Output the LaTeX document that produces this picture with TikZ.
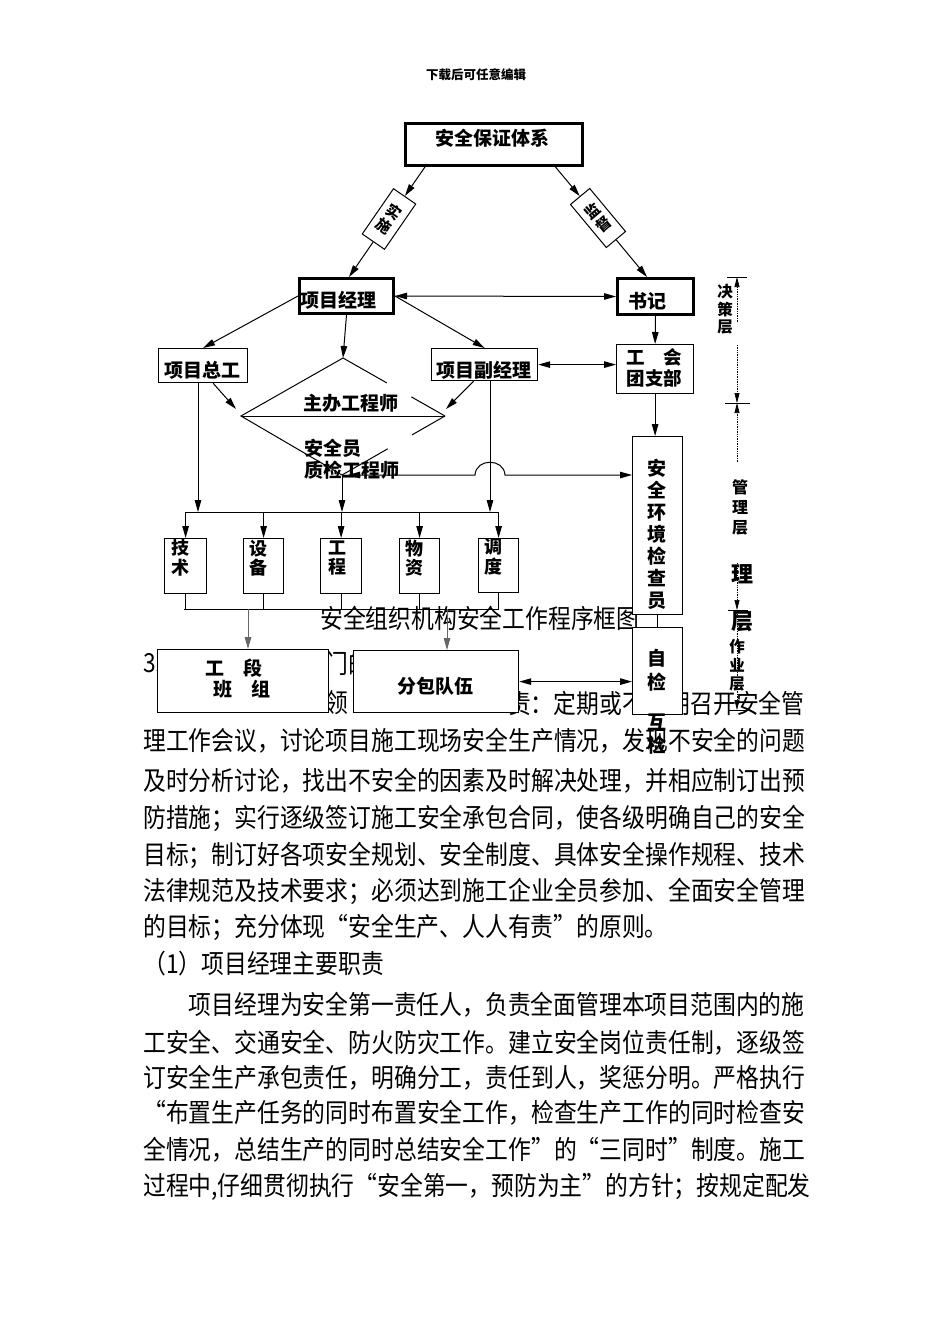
\documentclass[tikz,border=0pt]{standalone}
\usepackage{fontspec}
\usepackage{graphicx}
\newfontfamily\cjk{Noto Sans CJK SC}
\usetikzlibrary{arrows.meta,calc}
\newcommand\jline[2]{\makebox[#1][s]{\jlA#2\relax}}
\def\jlA#1{#1\jlB}
\def\jlB#1{\ifx\relax#1\else\hfil#1\expandafter\jlB\fi}
\newcommand\bt[1]{\scalebox{1}[1.15]{#1}}
\begin{document}
\begin{tikzpicture}[x=1pt,y=-1pt,
  box/.style={draw, fill=white, line width=1.2pt, inner sep=0, anchor=north west},
  tbox/.style={box, line width=3pt},
  rbox/.style={draw, fill=white, line width=1pt, inner sep=0, align=center,
     font=\cjk\bfseries\fontsize{15}{17}\selectfont},
  lab/.style={inner sep=0, align=center, font=\cjk\bfseries\fontsize{19}{22}\selectfont},
  vlab/.style={inner sep=0, align=center, font=\cjk\bfseries\fontsize{18}{19.5}\selectfont},
  body/.style={anchor=west, inner sep=0, font=\cjk\fontsize{22.8}{26}\selectfont},
  ln/.style={line width=1pt},
  arr/.style={line width=1pt, -{Triangle[length=12pt,width=6.5pt]}},
  darr/.style={line width=1pt, {Triangle[length=12pt,width=6.5pt]}-{Triangle[length=12pt,width=6.5pt]}},
  dim/.style={line width=0.7pt, densely dotted, -{Triangle[length=10pt,width=5pt]}},
  tick/.style={line width=1pt}]
\fill[white] (0,0) rectangle (950,1344);
\useasboundingbox (0,0) rectangle (950,1344);

% header
\node[inner sep=0, font=\cjk\bfseries\fontsize{12.5}{14}\selectfont] (hdr) at (476,75) {下载后可任意编辑};

% ---------- body text ----------
\node[body] (b0a) at (143,663) {\bt{3.}};
\node[body] (b0b) at (325.4,663) {\bt{门的}};
\node[body] (b1a) at (325.4,703) {\bt{领}};
\node[body] (b1b) at (507.8,703) {\bt{\jline{296.4pt}{责：定期或不定期召开安全管}}};
\node[body] (b2) at (143,741) {\bt{\jline{662pt}{理工作会议，讨论项目施工现场安全生产情况，发现不安全的问题}}};
\node[body] (b3) at (143,781) {\bt{\jline{662pt}{及时分析讨论，找出不安全的因素及时解决处理，并相应制订出预}}};
\node[body] (b4) at (143,818) {\bt{\jline{662pt}{防措施；实行逐级签订施工安全承包合同，使各级明确自己的安全}}};
\node[body] (b5) at (143,855) {\bt{\jline{662pt}{目标；制订好各项安全规划、安全制度、具体安全操作规程、技术}}};
\node[body] (b6) at (143,891) {\bt{\jline{662pt}{法律规范及技术要求；必须达到施工企业全员参加、全面安全管理}}};
\node[body] (b7) at (143,927) {\bt{的目标；充分体现“安全生产、人人有责”的原则。}};
\node[body] (b8) at (143,964) {\bt{（1）项目经理主要职责}};
\node[body] (b9) at (188.6,1005) {\bt{\jline{615.6pt}{项目经理为安全第一责任人，负责全面管理本项目范围内的施}}};
\node[body] (b10) at (143,1043) {\bt{\jline{662pt}{工安全、交通安全、防火防灾工作。建立安全岗位责任制，逐级签}}};
\node[body] (b11) at (143,1078) {\bt{\jline{662pt}{订安全生产承包责任，明确分工，责任到人，奖惩分明。严格执行}}};
\node[body] (b12) at (143,1113) {\bt{\jline{662pt}{“布置生产任务的同时布置安全工作，检查生产工作的同时检查安}}};
\node[body] (b13) at (143,1150) {\bt{\jline{662pt}{全情况，总结生产的同时总结安全工作”的“三同时”制度。施工}}};
\node[body] (b14) at (143,1187) {\bt{\jline{662pt}{过程中,仔细贯彻执行“安全第一，预防为主”的方针；按规定配发}}};
\node[body] (cap) at (320,618) {\bt{\jline{310pt}{安全组织机构安全工作程序框图}}};

% ---------- boxes ----------
\node[tbox, minimum width=177, minimum height=42] (sys) at (404,122) {};
\node[tbox, minimum width=94, minimum height=35] (pm) at (298,277) {};
\node[tbox, minimum width=76, minimum height=36] (sj) at (616,277) {};
\node[box, minimum width=89, minimum height=34] (zg) at (158,348) {};
\node[box, minimum width=106, minimum height=32] (fj) at (431,348) {};
\node[box, minimum width=77, minimum height=49] (gh) at (616,344) {};
\node[box, minimum width=50, minimum height=178] (aq) at (632,436) {};
\node[box, minimum width=50, minimum height=87] (zj) at (632,627) {};
\node[box, minimum width=42, minimum height=55] (js) at (164,538) {};
\node[box, minimum width=40, minimum height=55] (sb) at (243,538) {};
\node[box, minimum width=41, minimum height=55] (gc) at (320,538) {};
\node[box, minimum width=40, minimum height=55] (wz) at (399,538) {};
\node[box, minimum width=40, minimum height=54] (dd) at (478,538) {};
\node[box, minimum width=171, minimum height=63] (gd) at (157,649) {};
\node[box, minimum width=165, minimum height=62] (fb) at (353,650) {};

\node[rbox, rotate=-34.6, minimum width=27, minimum height=55] (ss) at (389,219) {实\\施};
\node[rbox, rotate=39.8, minimum width=25, minimum height=56] (jd) at (598,218) {监\\督};

% ---------- diamond ----------
\coordinate (T) at (343,358);
\coordinate (L) at (241,416);
\coordinate (R) at (445,416);
\coordinate (B) at (342,475);
\draw[ln] (T) -- (L) -- (B);
\draw[ln] (T) -- ($(T)!0.43!(R)$) ($(T)!0.67!(R)$) -- (R);
\draw[ln] (R) -- ($(R)!0.32!(B)$) ($(R)!0.555!(B)$) -- (B);
\draw[ln] (L) -- (R);

% ---------- connectors ----------
\coordinate (sA) at (427,164);
\coordinate (sB) at (553,164);
\coordinate (pmT) at (349,277);
\coordinate (sjT) at (647,277);
\draw[arr] (sA) -- (ss.north);
\draw[arr] (ss.south) -- (pmT);
\draw[arr] (sB) -- (jd.north);
\draw[arr] (jd.south) -- (sjT);

\draw[darr] (pm.east) -- (sj.west);
\draw[arr] (pm.west) -- (zg.north);
\draw[arr] (pm.south) -- (T);
\draw[arr] (pm.east) -- (fj.north);
\draw[darr] (fj.east) -- (fj.east -| gh.west);
\draw[arr] (sj.south) -- (gh.north);
\draw[arr] (gh.south) -- (gh.south |- aq.north);
\draw[ln] (aq.south) -- (zj.north);
\draw[darr] (fb.east) -- (fb.east -| zj.west);

\coordinate (Lt) at (236,409);
\coordinate (Rt) at (446,409);
\draw[arr] ([xshift=10pt]zg.south) -- (Lt);
\draw[arr] ([xshift=-11pt]fj.south) -- (Rt);

\coordinate (bus1) at (186,512);
\coordinate (bus2) at (499,512);
\coordinate (zgd) at (198,382);
\coordinate (fjd) at (490,380);
\draw[ln] (bus1) -- (bus2);
\draw[arr] (zgd) -- (zgd |- bus1);
\draw[arr] (B) -- (B |- bus1);
\draw[arr] (fjd) -- (fjd |- bus1);
\foreach \n in {js,sb,gc,wz,dd} \draw[arr] (\n.north |- bus1) -- (\n.north);

\coordinate (bus3) at (184,609);
\coordinate (bus4) at (499,609);
\draw[ln] (bus3) -- (bus4);
\foreach \n in {js,sb,gc,wz,dd} \draw[ln] (\n.south) -- (\n.south |- bus3);
\coordinate (d1) at (248,609);
\coordinate (d2) at (447,609);
\draw[arr, black!60] (d1) -- (d1 |- gd.north);
\draw[arr, black!60] (d2) -- (d2 |- fb.north);

\coordinate (qL) at (348,475);
\coordinate (h1) at (475,475);
\coordinate (h2) at (505,475);
\draw[darr] (qL) -- (h1) .. controls (476,458) and (504,458) .. (h2) -- (h2 -| aq.west);

% ---------- layer dimension ----------
\coordinate (tk1a) at (727,277); \coordinate (tk1b) at (747,277);
\coordinate (tk2a) at (725,403); \coordinate (tk2b) at (750,403);
\coordinate (tk3a) at (728,610); \coordinate (tk3b) at (748,610);
\coordinate (tk4a) at (728,710); \coordinate (tk4b) at (746,710);
\draw[tick] (tk1a) -- (tk1b);
\draw[tick] (tk2a) -- (tk2b);
\draw[tick] (tk3a) -- (tk3b);
\draw[tick] (tk4a) -- (tk4b);
\coordinate (dm1) at (737,322);
\coordinate (dm2) at (737,345);
\coordinate (dm3) at (737,462);
\coordinate (dm4) at (737,563);
\coordinate (dm5) at (737,614);
\draw[dim] (dm1) -- (dm1 |- tk1a);
\draw[dim] (dm2) -- (dm2 |- tk2a);
\draw[dim] (dm3) -- (dm3 |- tk2a);
\draw[dim] (dm4) -- (dm4 |- tk3a);
\draw[dim] (dm5) -- (dm5 |- tk4a);

% ---------- labels ----------
\node[lab] (tsys) at (492,138) {安全保证体系};
\node[lab] (tpm) at (338,300) {项目经理};
\node[lab] (tsj) at (647,301) {书记};
\node[lab] (tzg) at (202,370) {项目总工};
\node[lab] (tfj) at (484,370) {项目副经理};
\node[lab, font=\cjk\bfseries\fontsize{18.5}{21}\selectfont] (tgh) at (654.5,367.5) {工　会\\团支部};
\node[lab] (tzb) at (351,403) {主办工程师};
\node[lab, anchor=west, align=left] (tay) at (304,459) {安全员\\质检工程师};
\node[vlab] (tjs) at (180,557.5) {技\\术};
\node[vlab] (tsb) at (258,558) {设\\备};
\node[vlab] (tgc) at (337,558) {工\\程};
\node[vlab] (twz) at (414,558) {物\\资};
\node[vlab] (tdd) at (493,556.5) {调\\度};
\node[lab] (taq) at (657,534) {安\\全\\环\\境\\检\\查\\员};
\node[lab, font=\cjk\bfseries\fontsize{19}{24}\selectfont] (tzj) at (657,670) {自\\检};
\node[lab, font=\cjk\bfseries\fontsize{19}{23}\selectfont] (thj) at (657,734.5) {互\\检};
\node[lab] (tgd1) at (233.5,668) {工　段};
\node[lab] (tgd2) at (242,689) {班　组};
\node[lab] (tfb) at (435,686) {分包队伍};

\node[inner sep=0, align=center, font=\cjk\bfseries\fontsize{15.5}{17.5}\selectfont] (jc) at (725,309.5) {决\\策\\层};
\node[inner sep=0, align=center, font=\cjk\bfseries\fontsize{16}{20}\selectfont] (glc) at (740,507) {管\\理\\层};
\node[inner sep=0, font=\cjk\bfseries\fontsize{22}{24}\selectfont] (li) at (742,574) {理};
\node[inner sep=0, font=\cjk\bfseries\fontsize{22}{24}\selectfont] (cg) at (742,622) {层};
\node[inner sep=0, align=center, font=\cjk\bfseries\fontsize{15.5}{18.5}\selectfont] (zyc) at (737,665.5) {作\\业\\层};
\end{tikzpicture}
\end{document}
